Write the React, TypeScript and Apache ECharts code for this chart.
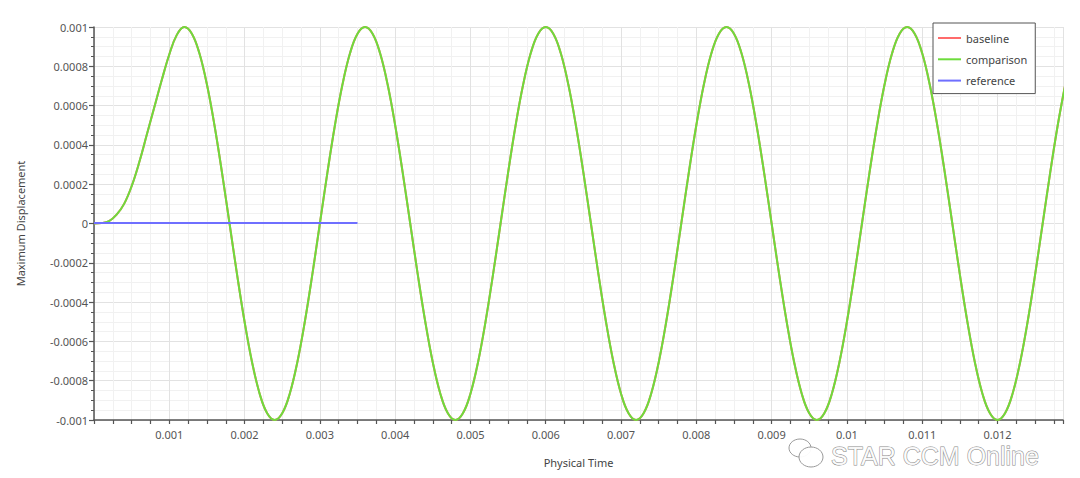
import React, { useEffect, useRef } from "react";
import * as echarts from "echarts";

// ---- data ----
const seriesNames = ["baseline", "comparison", "reference"];
const seriesColors = ["#ff6b6b", "#6ddc3c", "#6f6fff"];

// time sampling of the displacement curve (s)
const TIME_STEP = 0.0001;

// comparison: Maximum Displacement sampled every 0.0001 s from t = 0
const comparisonValues = [
  // start-up ramp 0 .. 0.0012
  0, 0.000002, 0.000012, 0.000045, 0.0001, 0.00019, 0.00031, 0.00045, 0.00059, 0.00073, 0.00086, 0.00096,
  // oscillation from 0.0012
  0.001, 0.000966, 0.000866, 0.000707, 0.0005, 0.000259, 0, -0.000259, -0.0005, -0.000707, -0.000866, -0.000966,
  -0.001, -0.000966, -0.000866, -0.000707, -0.0005, -0.000259, 0, 0.000259, 0.0005, 0.000707, 0.000866, 0.000966,
  0.001, 0.000966, 0.000866, 0.000707, 0.0005, 0.000259, 0, -0.000259, -0.0005, -0.000707, -0.000866, -0.000966,
  -0.001, -0.000966, -0.000866, -0.000707, -0.0005, -0.000259, 0, 0.000259, 0.0005, 0.000707, 0.000866, 0.000966,
  0.001, 0.000966, 0.000866, 0.000707, 0.0005, 0.000259, 0, -0.000259, -0.0005, -0.000707, -0.000866, -0.000966,
  -0.001, -0.000966, -0.000866, -0.000707, -0.0005, -0.000259, 0, 0.000259, 0.0005, 0.000707, 0.000866, 0.000966,
  0.001, 0.000966, 0.000866, 0.000707, 0.0005, 0.000259, 0, -0.000259, -0.0005, -0.000707, -0.000866, -0.000966,
  -0.001, -0.000966, -0.000866, -0.000707, -0.0005, -0.000259, 0, 0.000259, 0.0005, 0.000707, 0.000866, 0.000966,
  0.001, 0.000966, 0.000866, 0.000707, 0.0005, 0.000259, 0, -0.000259, -0.0005, -0.000707, -0.000866, -0.000966,
  -0.001, -0.000966, -0.000866, -0.000707, -0.0005, -0.000259, 0, 0.000259, 0.0005, 0.000707,
];
// baseline lies exactly under the comparison curve
const baselineValues = [...comparisonValues];

// reference: flat line near zero up to 0.0035 s
const referenceTimes = [0, 0.001, 0.002, 0.003, 0.0035];
const referenceValues = [0.000002, 0.000002, 0.000002, 0.000002, 0.000002];

// axes
const X_MIN = 0;
const X_MAX = 0.01287;
const X_MAJOR = 0.001;
const X_MINOR = 0.00025;
const Y_MIN = -0.001;
const Y_MAX = 0.001;
const Y_INTERVAL = 0.0002;

const fmt = (v: number) => (Math.abs(v) < 1e-12 ? "0" : String(parseFloat(v.toPrecision(4))));

export default function App() {
  const ref = useRef<HTMLDivElement>(null);

  useEffect(() => {
    if (!ref.current) return;
    const chart = echarts.init(ref.current, null, { renderer: "svg" });

    const toPairs = (vals: number[]) => vals.map((v, i) => [i * TIME_STEP, v]);
    const font = "Noto Sans";

    chart.setOption({
      animation: false,
      backgroundColor: "#ffffff",
      grid: { left: 94, right: 17, top: 27, bottom: 58, containLabel: false },
      legend: {
        data: seriesNames,
        orient: "vertical",
        left: 933,
        top: 23,
        padding: [8, 8, 6, 5],
        itemGap: 7.3,
        itemWidth: 23,
        itemHeight: 2,
        itemTextGap: 3,
        icon: "rect",
        backgroundColor: "#ffffff",
        borderColor: "#555555",
        borderWidth: 1,
        borderRadius: 0,
        textStyle: { fontFamily: font, fontSize: 11, color: "#444", lineHeight: 14 },
      },
      xAxis: {
        type: "value",
        min: X_MIN,
        max: X_MAX,
        interval: X_MINOR,
        name: "Physical Time",
        nameLocation: "middle",
        nameGap: 37,
        nameTextStyle: { fontFamily: font, fontSize: 11, color: "#444" },
        axisLine: { show: true, onZero: false, lineStyle: { color: "#555", width: 1.5 } },
        axisTick: { show: true, length: 4, lineStyle: { color: "#555", width: 1.2 } },
        axisLabel: {
          interval: 0,
          margin: 9,
          fontFamily: font,
          fontSize: 11,
          color: "#555",
          formatter: (v: number) => {
            const k = v / X_MAJOR;
            if (v <= 0 || Math.abs(k - Math.round(k)) > 1e-6) return "";
            return fmt(v);
          },
        },
        splitLine: {
          show: true,
          lineStyle: { color: ["#e2e2e2", "#f1f1f1", "#f1f1f1", "#f1f1f1"], width: 1 },
        },
      },
      yAxis: {
        type: "value",
        min: Y_MIN,
        max: Y_MAX,
        interval: Y_INTERVAL,
        name: "Maximum Displacement",
        nameLocation: "middle",
        nameGap: 68,
        nameTextStyle: { fontFamily: font, fontSize: 11, color: "#444" },
        axisLine: { show: true, lineStyle: { color: "#555", width: 1.5 } },
        axisTick: { show: true, length: 5, lineStyle: { color: "#555", width: 1.2 } },
        minorTick: { show: true, splitNumber: 4, length: 3, lineStyle: { color: "#555", width: 1 } },
        axisLabel: { margin: 6, fontFamily: font, fontSize: 11, color: "#555", formatter: fmt },
        splitLine: { show: true, lineStyle: { color: "#e2e2e2", width: 1 } },
        minorSplitLine: { show: true, lineStyle: { color: "#f1f1f1", width: 1 } },
      },
      series: [
        {
          name: seriesNames[0],
          type: "line",
          data: toPairs(baselineValues),
          showSymbol: false,
          smooth: 0.4,
          color: seriesColors[0],
          lineStyle: { color: seriesColors[0], width: 2 },
          z: 2,
        },
        {
          name: seriesNames[1],
          type: "line",
          data: toPairs(comparisonValues),
          showSymbol: false,
          smooth: 0.4,
          color: seriesColors[1],
          lineStyle: { color: seriesColors[1], width: 2 },
          z: 3,
        },
        {
          name: seriesNames[2],
          type: "line",
          data: referenceTimes.map((t, i) => [t, referenceValues[i]]),
          showSymbol: false,
          color: seriesColors[2],
          lineStyle: { color: seriesColors[2], width: 2 },
          z: 4,
        },
      ],
      graphic: [
        {
          type: "group",
          z: 100,
          children: [
            {
              type: "ellipse",
              shape: { cx: 800, cy: 448, rx: 11, ry: 9 },
              style: { fill: "rgba(255,255,255,0.9)", stroke: "#9a9a9a", lineWidth: 1 },
            },
            {
              type: "ellipse",
              shape: { cx: 811, cy: 457, rx: 12, ry: 10 },
              style: { fill: "rgba(255,255,255,0.95)", stroke: "#9a9a9a", lineWidth: 1 },
            },
            {
              type: "text",
              x: 831,
              y: 456,
              style: {
                text: "STAR CCM Online",
                font: "25px 'Liberation Sans'",
                fill: "rgba(255,255,255,0.9)",
                stroke: "#8a8a8a",
                lineWidth: 1,
                verticalAlign: "middle",
                align: "left",
              },
            },
          ],
        },
      ],
    });

    return () => chart.dispose();
  }, []);

  return (
    <div
      ref={ref}
      style={{ position: "fixed", left: 0, top: 0, width: 1080, height: 478, background: "#fff" }}
    />
  );
}
